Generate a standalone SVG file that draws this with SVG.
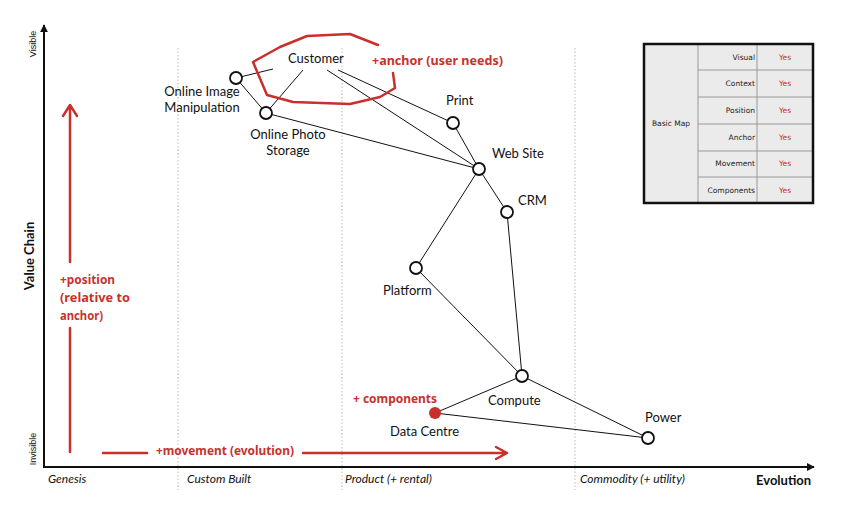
<svg xmlns="http://www.w3.org/2000/svg" width="867" height="519" viewBox="0 0 867 519">
<style>
.lbl{font-family:Lato,"Open Sans","Liberation Sans",sans-serif;font-size:13px;fill:#111}
.cat{font-family:Lato,"Liberation Sans",sans-serif;font-size:12px;font-style:italic;fill:#111}
.axt{font-family:Lato,"Liberation Sans",sans-serif;font-weight:bold;font-size:13px;fill:#111}
.sm{font-family:"Liberation Sans",sans-serif;font-size:9px;fill:#111}
.red{font-family:"Noto Sans","DejaVu Sans",sans-serif;font-weight:bold;font-size:13px;fill:#c9302c}
.tb{font-family:"DejaVu Sans",sans-serif;font-size:7.5px;fill:#222}
.yes{font-family:"DejaVu Sans",sans-serif;font-size:7.5px;fill:#c9302c}
.node{fill:#fff;stroke:#111;stroke-width:1.8}
.edge{stroke:#111;stroke-width:1;fill:none}
.dot{stroke:#bbb;stroke-width:1;stroke-dasharray:1.5 2;fill:none}
.rs{stroke:#c9302c;stroke-width:2.5;fill:none;stroke-linecap:round;stroke-linejoin:round}
</style>
<rect width="867" height="519" fill="#fff"/>
<defs>
<marker id="ah" viewBox="0 0 10 10" refX="9" refY="5" markerWidth="8" markerHeight="8" markerUnits="userSpaceOnUse" orient="auto"><path d="M0,0 L10,5 L0,10 Z" fill="#111"/></marker>
</defs>
<g id="grid">
<line class="dot" x1="178" y1="48" x2="178" y2="490"/>
<line class="dot" x1="342" y1="48" x2="342" y2="490"/>
<line class="dot" x1="575" y1="48" x2="575" y2="490"/>
</g>
<g id="axes">
<line x1="44" y1="467" x2="44" y2="25" stroke="#111" stroke-width="2" marker-end="url(#ah)"/>
<line x1="43" y1="467" x2="814" y2="467" stroke="#111" stroke-width="2" marker-end="url(#ah)"/>
<text class="sm" transform="translate(36,44) rotate(-90)" text-anchor="middle">Visible</text>
<text class="sm" transform="translate(36,449) rotate(-90)" text-anchor="middle">Invisible</text>
<text class="axt" transform="translate(34,256) rotate(-90)" text-anchor="middle">Value Chain</text>
<text class="cat" x="48" y="483">Genesis</text>
<text class="cat" x="187" y="483">Custom Built</text>
<text class="cat" x="345" y="483">Product (+ rental)</text>
<text class="cat" x="580" y="483">Commodity (+ utility)</text>
<text class="axt" x="756" y="485">Evolution</text>
</g>
<g id="connectors">
<line class="edge" x1="273" y1="69" x2="236" y2="78"/>
<line class="edge" x1="303" y1="70" x2="266" y2="113"/>
<line class="edge" x1="327" y1="70" x2="479" y2="169"/>
<line class="edge" x1="338" y1="70" x2="453" y2="123"/>
<line class="edge" x1="236" y1="78" x2="266" y2="113"/>
<line class="edge" x1="266" y1="113" x2="479" y2="169"/>
<line class="edge" x1="453" y1="123" x2="479" y2="169"/>
<line class="edge" x1="479" y1="169" x2="507" y2="212"/>
<line class="edge" x1="479" y1="169" x2="416" y2="268"/>
<line class="edge" x1="507" y1="212" x2="522" y2="376"/>
<line class="edge" x1="416" y1="268" x2="522" y2="376"/>
<line class="edge" x1="522" y1="376" x2="435" y2="413"/>
<line class="edge" x1="522" y1="376" x2="648" y2="438"/>
<line class="edge" x1="435" y1="413" x2="648" y2="438"/>
</g>
<g id="customer"><text class="lbl" x="288" y="63">Customer</text></g>
<g id="online-image-manipulation"><circle class="node" cx="236" cy="78" r="6"/><text class="lbl" x="202" y="96" text-anchor="middle">Online Image</text><text class="lbl" x="202" y="112" text-anchor="middle">Manipulation</text></g>
<g id="online-photo-storage"><circle class="node" cx="266" cy="113" r="6"/><text class="lbl" x="288" y="139" text-anchor="middle">Online Photo</text><text class="lbl" x="288" y="155" text-anchor="middle">Storage</text></g>
<g id="print"><circle class="node" cx="453" cy="123" r="6"/><text class="lbl" x="446" y="105">Print</text></g>
<g id="web-site"><circle class="node" cx="479" cy="169" r="6"/><text class="lbl" x="492" y="158">Web Site</text></g>
<g id="crm"><circle class="node" cx="507" cy="212" r="6"/><text class="lbl" x="518" y="205">CRM</text></g>
<g id="platform"><circle class="node" cx="416" cy="268" r="6"/><text class="lbl" x="383" y="295">Platform</text></g>
<g id="compute"><circle class="node" cx="522" cy="376" r="6"/><text class="lbl" x="488" y="405">Compute</text></g>
<g id="data-centre"><circle cx="435" cy="413" r="6" fill="#c9302c"/><text class="lbl" x="390" y="436">Data Centre</text></g>
<g id="power"><circle class="node" cx="648" cy="438" r="6"/><text class="lbl" x="645" y="422">Power</text></g>
<g id="annotations">
<path class="rs" d="M378,45 L350,34 L307,36 L280,47 L253,62 L267,95 L293,102 L350,104 L380,97 L395,88 L393,73"/>
<text class="red" x="372" y="65" textLength="131" lengthAdjust="spacingAndGlyphs">+anchor (user needs)</text>
<path class="rs" d="M70,262 L70,106 M63,116 L70,105 L77,116 M70,328 L70,452"/>
<text class="red" x="60" y="284" textLength="55" lengthAdjust="spacingAndGlyphs">+position</text>
<text class="red" x="60" y="302" textLength="70" lengthAdjust="spacingAndGlyphs">(relative to</text>
<text class="red" x="60" y="320" textLength="43" lengthAdjust="spacingAndGlyphs">anchor)</text>
<path class="rs" d="M103,453 L147,453 M303,453 L506,453 M496,447 L507,453 L496,459"/>
<text class="red" x="156" y="455" textLength="138" lengthAdjust="spacingAndGlyphs">+movement (evolution)</text>
<text class="red" x="353" y="403" textLength="84" lengthAdjust="spacingAndGlyphs">+ components</text>
</g>
<g id="table">
<rect x="644" y="44" width="169" height="159" fill="#ebebeb"/>
<g stroke="#999" stroke-width="1">
<line x1="698" y1="44" x2="698" y2="203"/>
<line x1="757" y1="44" x2="757" y2="203"/>
<line x1="698" y1="70" x2="813" y2="70"/>
<line x1="698" y1="97" x2="813" y2="97"/>
<line x1="698" y1="124" x2="813" y2="124"/>
<line x1="698" y1="151" x2="813" y2="151"/>
<line x1="698" y1="177" x2="813" y2="177"/>
</g>
<rect x="644" y="44" width="169" height="159" fill="none" stroke="#111" stroke-width="2.5"/>
<text class="tb" x="671" y="126" text-anchor="middle">Basic Map</text>
<text class="tb" x="755" y="60" text-anchor="end">Visual</text>
<text class="tb" x="755" y="86" text-anchor="end">Context</text>
<text class="tb" x="755" y="113" text-anchor="end">Position</text>
<text class="tb" x="755" y="140" text-anchor="end">Anchor</text>
<text class="tb" x="755" y="166" text-anchor="end">Movement</text>
<text class="tb" x="755" y="193" text-anchor="end">Components</text>
<text class="yes" x="785" y="60" text-anchor="middle">Yes</text>
<text class="yes" x="785" y="86" text-anchor="middle">Yes</text>
<text class="yes" x="785" y="113" text-anchor="middle">Yes</text>
<text class="yes" x="785" y="140" text-anchor="middle">Yes</text>
<text class="yes" x="785" y="166" text-anchor="middle">Yes</text>
<text class="yes" x="785" y="193" text-anchor="middle">Yes</text>
</g>
</svg>
